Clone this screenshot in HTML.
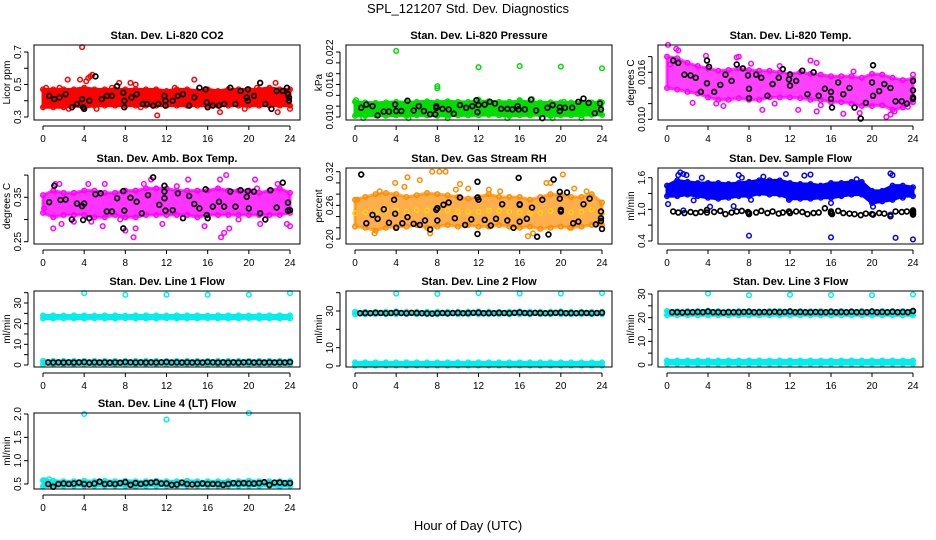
<!DOCTYPE html>
<html><head><meta charset="utf-8"><style>
html,body{margin:0;padding:0;background:#fff;}
svg{display:block;font-family:"Liberation Sans",Arial,sans-serif;}
</style></head><body>
<svg id="chart" width="936" height="540" viewBox="0 0 936 540" xmlns="http://www.w3.org/2000/svg">
<rect x="0" y="0" width="936" height="540" fill="#fff"/>
<text x="468" y="13" text-anchor="middle" font-size="13">SPL_121207  Std. Dev. Diagnostics</text>
<text x="468" y="530" text-anchor="middle" font-size="13">Hour of Day (UTC)</text>
</svg>
<script>
// ---------- data ----------
const bandHours=[0,1,2,3,4,5,6,7,8,9,10,11,12,13,14,15,16,17,18,19,20,21,22,23,24];
const lineHours=[0.5,1,1.5,2,2.5,3,3.5,4,4.5,5,5.5,6,6.5,7,7.5,8,8.5,9,9.5,10,10.5,11,11.5,12,12.5,13,13.5,14,14.5,15,15.5,16,16.5,17,17.5,18,18.5,19,19.5,20,20.5,21,21.5,22,22.5,23,23.5,24];

// Panel 1 CO2
const co2Lo=[0.36,0.36,0.36,0.37,0.36,0.37,0.37,0.37,0.37,0.37,0.37,0.37,0.37,0.37,0.37,0.37,0.37,0.37,0.37,0.37,0.37,0.37,0.37,0.37,0.37];
const co2Hi=[0.47,0.47,0.47,0.47,0.48,0.47,0.47,0.47,0.47,0.47,0.47,0.47,0.46,0.47,0.47,0.46,0.47,0.46,0.47,0.47,0.47,0.47,0.48,0.47,0.47];
const co2OutH=[3.8,4.2,4.4,4.6,4.8,2.4,3.6,7.4,8.5,9,11.1,14.7,17.2,22.6,22.8,24,2.5,5.2,9.5,19.6,0.3,1.6,6.7,12.8,20.8];
const co2OutV=[0.73,0.52,0.54,0.55,0.56,0.53,0.53,0.51,0.51,0.5,0.31,0.53,0.33,0.51,0.33,0.35,0.35,0.35,0.36,0.35,0.48,0.48,0.48,0.48,0.48];
const co2BlkH=[0.6,1.1,1.6,2.2,2.8,3.3,3.8,3.9,4,4.5,5.1,5.7,6.2,6.7,7.2,7.8,7.9,7.9,8.6,9.1,9.7,10.1,10.7,11.2,11.8,11.9,11.9,12.6,13.1,13.6,14.2,14.7,15.2,15.8,15.9,16,16.5,17.1,17.6,18.2,18.7,19.2,19.8,19.9,19.9,20.5,21.1,21.6,22.2,22.7,23.3,23.7,23.8,23.9,23.9];
const co2BlkV=[0.43,0.41,0.42,0.44,0.36,0.38,0.41,0.36,0.35,0.40,0.55,0.41,0.43,0.43,0.49,0.45,0.40,0.36,0.42,0.44,0.38,0.38,0.37,0.38,0.43,0.40,0.37,0.40,0.43,0.44,0.37,0.42,0.48,0.47,0.39,0.36,0.37,0.37,0.38,0.48,0.38,0.46,0.42,0.47,0.40,0.43,0.51,0.38,0.35,0.46,0.46,0.48,0.44,0.42,0.40];

// Panel 2 Pressure
const prLo=[0.0102,0.0102,0.0103,0.0102,0.0103,0.0102,0.0103,0.0103,0.0102,0.0102,0.0103,0.0103,0.0103,0.0104,0.0103,0.0102,0.0103,0.0103,0.0104,0.0102,0.0103,0.0103,0.0103,0.0104,0.0104];
const prHi=[0.0128,0.0127,0.0126,0.0127,0.0128,0.0127,0.0128,0.0129,0.0128,0.0129,0.0128,0.0128,0.0129,0.0129,0.0128,0.0128,0.0129,0.0128,0.0127,0.0127,0.0127,0.0127,0.0127,0.0127,0.0127];
const prOutH=[4,8,8,12,16,20,24,17.2,20.3,23.8,22,0.8,5.2,9,14.8,19.2,0.1,12,16];
const prOutV=[0.0222,0.0157,0.0153,0.0192,0.0194,0.0193,0.019,0.0133,0.0128,0.0128,0.0098,0.0098,0.0098,0.0098,0.0098,0.0098,0.0131,0.0132,0.0131];
const prBlkH=[0.6,1.1,1.7,2.2,2.8,3.3,3.9,4,4.5,5.1,5.7,6.2,6.7,7.3,7.8,7.9,7.9,8.5,9.1,9.6,10.2,10.8,11.4,11.8,11.9,12,12.6,13.1,13.6,14.2,14.8,15.3,15.8,15.9,16.5,17.1,17.6,18.2,18.7,19.2,19.9,19.9,20.4,21.1,21.7,22.2,22.7,23.3,23.8,23.9];
const prBlkV=[0.0117,0.0123,0.0120,0.0103,0.0110,0.0110,0.0123,0.0111,0.0111,0.0130,0.0112,0.0120,0.0111,0.0105,0.0105,0.0120,0.0117,0.0115,0.0114,0.0106,0.0122,0.0117,0.0120,0.0131,0.0109,0.0122,0.0123,0.0128,0.0125,0.0115,0.0115,0.0114,0.0120,0.0114,0.0114,0.0132,0.0112,0.0098,0.0117,0.0122,0.0118,0.0111,0.0117,0.0117,0.0128,0.0134,0.0126,0.0107,0.0125,0.0114];

// Panel 3 Li-820 Temp
const tpLo=[0.0140,0.0138,0.0135,0.0133,0.0128,0.0125,0.0125,0.0127,0.0125,0.0125,0.0128,0.0128,0.0128,0.0127,0.0125,0.0125,0.0122,0.0122,0.0120,0.0117,0.0117,0.0118,0.0112,0.0115,0.0122];
const tpHi=[0.0180,0.0178,0.0172,0.0168,0.0165,0.0162,0.0163,0.0165,0.0163,0.0162,0.0162,0.0160,0.0158,0.0160,0.0158,0.0157,0.0155,0.0155,0.0155,0.0153,0.0158,0.0157,0.0153,0.0150,0.0152];
const tpOutH=[0.1,0.9,1.1,3.8,7,6.8,8.2,11,14,14.6,9.3,12.8,14.6,17.2,18.8,21.4,21.8,22.2,24,5.5,15,0.3,2.5,4.8,10.5,18.2,23.5];
const tpOutV=[0.0195,0.019,0.0188,0.0181,0.018,0.0179,0.0171,0.0168,0.0175,0.0172,0.0112,0.0112,0.011,0.0107,0.0108,0.0103,0.0106,0.011,0.0157,0.0117,0.0118,0.0170,0.0121,0.0120,0.0120,0.0161,0.0116];
const tpBlkH=[0.6,1.1,1.7,2.3,2.8,3.3,3.9,3.9,4.1,4.6,5.2,5.7,6.3,6.8,7.4,7.9,8,8,8.7,9.2,9.8,10.3,10.9,11.3,11.9,12,12,12.6,13.2,13.7,14.3,14.8,15.4,16,16,16.1,16.7,17.2,17.8,18.3,18.9,19.4,20,20.1,20.1,20.7,21.2,21.8,22.3,22.9,23.4,24,24,24,24];
const tpBlkV=[0.0175,0.0172,0.0157,0.0156,0.0153,0.0135,0.0175,0.0146,0.0167,0.0135,0.0144,0.0157,0.0149,0.0170,0.0165,0.0156,0.0139,0.0127,0.0157,0.0153,0.0130,0.0145,0.0153,0.0164,0.0151,0.0157,0.0143,0.0149,0.0162,0.0132,0.0160,0.0130,0.0139,0.0135,0.0126,0.0115,0.0147,0.0132,0.0140,0.0115,0.0101,0.0121,0.0147,0.0130,0.0169,0.0136,0.0145,0.0140,0.0123,0.0123,0.0120,0.0149,0.0137,0.0128,0.0126];

// Panel 4 Amb Box Temp
const abLo=[0.315,0.305,0.31,0.31,0.31,0.305,0.305,0.31,0.305,0.305,0.31,0.31,0.31,0.31,0.31,0.305,0.31,0.31,0.31,0.31,0.31,0.31,0.31,0.31,0.315];
const abHi=[0.355,0.365,0.36,0.36,0.365,0.365,0.36,0.36,0.365,0.365,0.37,0.37,0.37,0.365,0.365,0.365,0.365,0.37,0.365,0.365,0.365,0.36,0.365,0.37,0.36];
const abOutH=[1.2,1.6,4.4,6,8.8,10.5,14.1,17.8,17.2,17.3,17.6,18.1,20.6,20.8,1,1.8,5.8,8,9,11.6,15.7,21.1,23.7,24,0.1,9.8,22.8,7.5,4.7,3,13,19];
const abOutV=[0.38,0.38,0.38,0.38,0.26,0.39,0.39,0.40,0.39,0.26,0.27,0.28,0.39,0.37,0.28,0.29,0.285,0.275,0.28,0.29,0.285,0.29,0.29,0.285,0.325,0.38,0.38,0.30,0.295,0.295,0.375,0.30];
const abBlkH=[0.6,1.1,1.7,2.2,2.8,3.3,3.8,3.9,4,4.5,5.1,5.6,6.2,6.7,7.2,7.8,7.8,7.9,8.5,9.1,9.6,10.2,10.7,11.3,11.8,11.8,11.9,11.8,12.6,13.1,13.6,14.2,14.7,15.2,15.8,15.9,16,16.5,17.1,17.6,18.2,18.7,19.2,19.8,19.9,20,20.5,21.1,21.6,22.1,22.7,23.3,23.8,23.8,24];
const abBlkV=[0.339,0.376,0.344,0.345,0.30,0.336,0.33,0.299,0.336,0.303,0.357,0.359,0.318,0.318,0.348,0.364,0.28,0.32,0.349,0.34,0.314,0.355,0.395,0.333,0.376,0.363,0.32,0.348,0.321,0.359,0.303,0.353,0.335,0.325,0.368,0.31,0.303,0.329,0.34,0.329,0.363,0.329,0.366,0.351,0.364,0.325,0.363,0.314,0.30,0.366,0.327,0.383,0.338,0.32,0.321];

// Panel 5 Gas Stream RH
const rhLo=[0.222,0.22,0.215,0.22,0.222,0.222,0.225,0.22,0.222,0.225,0.222,0.225,0.222,0.222,0.225,0.222,0.22,0.222,0.218,0.22,0.222,0.22,0.222,0.225,0.225];
const rhHi=[0.27,0.275,0.28,0.282,0.28,0.275,0.278,0.282,0.28,0.278,0.275,0.272,0.275,0.28,0.275,0.275,0.275,0.27,0.275,0.28,0.278,0.275,0.275,0.28,0.265];
const rhOutH=[5.1,6.3,7.5,8.2,8.8,3.9,2.4,10.2,14.1,18.6,20.2,19,7.3,16.8,17.3,20.9,1.9,4.8,11,13,21.3,22.5,0.2,9.8];
const rhOutV=[0.31,0.305,0.32,0.32,0.32,0.30,0.285,0.298,0.285,0.30,0.315,0.30,0.21,0.205,0.21,0.22,0.21,0.293,0.29,0.288,0.29,0.285,0.27,0.288];
const rhBlkH=[0.6,1.1,1.7,2.2,2.8,3.3,3.8,3.9,4,4.6,5.1,5.7,6.3,6.8,7.3,7.9,8,8,8.6,9.1,9.7,10.2,10.7,11.3,11.9,11.9,12,11.9,12.6,13.2,13.7,14.3,14.8,15.4,15.9,16,16,16,16.7,17.2,17.7,18.2,18.8,19.3,19.9,19.9,20,20,20.6,21.2,21.7,22.2,22.8,23.4,23.9,23.9,23.9,24];
const rhBlkV=[0.315,0.228,0.243,0.236,0.253,0.229,0.27,0.245,0.22,0.228,0.239,0.227,0.225,0.233,0.217,0.252,0.255,0.233,0.261,0.265,0.237,0.274,0.225,0.235,0.302,0.274,0.27,0.209,0.234,0.224,0.236,0.262,0.233,0.22,0.309,0.231,0.262,0.261,0.236,0.256,0.204,0.27,0.208,0.306,0.284,0.272,0.252,0.249,0.283,0.228,0.231,0.262,0.272,0.226,0.249,0.237,0.232,0.218];

// Panel 6 Sample Flow
const sfLo=[1.25,1.25,1.28,1.25,1.22,1.2,1.22,1.25,1.25,1.3,1.28,1.28,1.2,1.2,1.2,1.22,1.22,1.25,1.28,1.28,1.12,1.15,1.18,1.25,1.25];
const sfHi=[1.45,1.55,1.52,1.5,1.5,1.5,1.48,1.5,1.52,1.55,1.55,1.55,1.5,1.48,1.48,1.45,1.5,1.5,1.52,1.52,1.35,1.35,1.45,1.45,1.42];
const sfOutH=[0.1,1.3,1.6,1.9,1.1,7,7.3,9.4,11.6,13.4,14,22,21.8,1.6,4.2,6.5,8,16,22.3,24,21.8,8.2,2.6,16,20.1,3.4,11.9,18.5,23];
const sfOutV=[1.1,1.7,1.67,1.65,1.65,1.65,1.6,1.62,1.67,1.64,1.66,1.65,1.68,0.98,1.05,1.06,0.5,0.47,0.46,0.43,0.9,1.18,1.17,1.12,1.05,1.6,1.18,1.57,1.22];
const sfBlkH=[0.6,1.1,1.7,2.3,2.8,3.3,3.9,3.9,4.6,5.2,5.7,6.3,6.8,7.3,7.9,8,8,8.7,9.2,9.8,10.3,10.9,11.3,11.9,12,12.6,13.2,13.7,14.3,14.8,15.4,16,16,16.1,16.7,17.2,17.8,18.3,18.9,19.4,20,20.1,20.7,21.2,21.8,22.3,22.9,23.4,24,24,24,24];
const sfBlkV=[0.96,0.94,0.93,0.95,0.93,0.95,0.99,0.94,0.95,0.97,0.91,0.94,0.96,0.97,0.95,0.91,0.93,0.94,0.97,0.93,0.96,0.92,0.94,0.96,0.93,0.96,0.95,0.91,0.93,0.94,1.02,0.96,0.93,0.91,0.97,0.93,0.92,0.91,0.89,0.92,0.91,0.9,0.93,0.92,0.87,0.96,0.95,0.96,0.98,0.95,0.92,0.9];

// Panel 7 Line 1 Flow
const l1UpLo=[22.5,22.5,22.6,22.5,22.5,22.6,22.5,22.5,22.6,22.5,22.5,22.5,22.6,22.5,22.5,22.5,22.6,22.5,22.5,22.5,22.6,22.5,22.5,22.5,22.5];
const l1UpHi=[24,24,23.9,24,24,23.9,24,24,23.9,24,24,24,23.9,24,24,24,23.9,24,24,24,23.9,24,24,24,24];
const l1LowLo=[0.3,0.3,0.3,0.3,0.3,0.3,0.3,0.3,0.3,0.3,0.3,0.3,0.3,0.3,0.3,0.3,0.3,0.3,0.3,0.3,0.3,0.3,0.3,0.3,0.3];
const l1LowHi=[2,2,2,2,2,2,2,2,2,2,2,2,2,2,2,2,2,2,2,2,2,2,2,2,2];
const l1OutH=[4,8,12,16,20,24];
const l1OutV=[34.8,34,34,34,34,34.8];
const l1Blk=[1.3,1.2,1.3,1.2,1.3,1.2,1.3,1.4,1.2,1.3,1.2,1.3,1.2,1.3,1.2,1.4,1.3,1.2,1.3,1.2,1.3,1.2,1.3,1.4,1.2,1.3,1.2,1.3,1.2,1.3,1.2,1.4,1.3,1.2,1.3,1.2,1.3,1.2,1.3,1.4,1.2,1.3,1.2,1.3,1.2,1.3,1.2,1.4];

// Panel 8 Line 2 Flow
const l2UpLo=[28.2,28.2,28.3,28.2,28.2,28.3,28.2,28.2,28.2,28.3,28.2,28.2,28.2,28.3,28.2,28.2,28.2,28.2,28.3,28.2,28.2,28.2,28.2,28.2,28.2];
const l2UpHi=[29.6,29.5,29.6,29.6,29.8,29.6,29.5,29.6,29.6,29.5,29.6,29.6,29.8,29.6,29.5,29.6,29.8,29.6,29.5,29.6,29.8,29.6,29.6,29.5,29.6];
const l2LowLo=[0.2,0.2,0.2,0.2,0.2,0.2,0.2,0.2,0.2,0.2,0.2,0.2,0.2,0.2,0.2,0.2,0.2,0.2,0.2,0.2,0.2,0.2,0.2,0.2,0.2];
const l2LowHi=[2,2,2,2,2,2,2,2,2,2,2,2,2,2,2,2,2,2,2,2,2,2,2,2,2];
const l2OutH=[4,8,12,16,20,24];
const l2OutV=[39.5,39.3,39.8,39.5,39.5,39.8];
const l2Blk=[28.8,28.9,28.8,29,28.9,28.8,28.9,29.2,28.9,28.8,29,28.9,28.8,28.7,28.6,28.8,28.9,28.8,28.9,29,28.8,28.9,29,29.1,28.8,28.9,28.8,29,28.9,28.8,29,29.2,28.9,28.8,29,28.9,28.8,28.9,29,29.1,28.8,28.9,28.8,29,28.9,28.8,28.9,29.1];

// Panel 9 Line 3 Flow
const l3UpLo=[21,21,21,21,21,21,21,21,21,21,21,21,21,21,21,21,21,21,21,21,21,21,21,21,21];
const l3UpHi=[22.8,22.7,22.8,22.8,23,22.8,22.7,22.8,22.8,22.7,22.8,22.8,22.8,22.8,22.7,22.8,22.8,22.8,22.7,22.8,22.8,22.8,22.8,22.8,23];
const l3LowLo=[0.4,0.4,0.4,0.4,0.4,0.4,0.4,0.4,0.4,0.4,0.4,0.4,0.4,0.4,0.4,0.4,0.4,0.4,0.4,0.4,0.4,0.4,0.4,0.4,0.4];
const l3LowHi=[1.9,1.9,1.9,1.9,1.9,1.9,1.9,1.9,1.9,1.9,1.9,1.9,1.9,1.9,1.9,1.9,1.9,1.9,1.9,1.9,1.9,1.9,1.9,1.9,1.9];
const l3OutH=[4,8,12,16,20,24];
const l3OutV=[30.2,29.5,29.7,29.6,29.5,29.8];
const l3Blk=[22.3,22.3,22.2,22.3,22.3,22.4,22.3,22.6,22.3,22.3,22.2,22.3,22.3,22.3,22.4,22.5,22.3,22.3,22.4,22.3,22.5,22.3,22.4,22.6,22.3,22.4,22.3,22.3,22.4,22.3,22.3,22.5,22.3,22.4,22.3,22.5,22.3,22.4,22.3,22.6,22.3,22.4,22.3,22.5,22.3,22.4,22.3,22.8];

// Panel 10 Line 4 Flow
const l4Lo=[0.45,0.45,0.46,0.46,0.46,0.46,0.46,0.46,0.46,0.45,0.46,0.46,0.46,0.46,0.46,0.46,0.46,0.46,0.46,0.46,0.46,0.46,0.46,0.45,0.46];
const l4Hi=[0.58,0.57,0.56,0.56,0.57,0.56,0.57,0.56,0.57,0.56,0.56,0.57,0.56,0.56,0.57,0.56,0.56,0.56,0.56,0.56,0.57,0.56,0.56,0.56,0.56];
const l4OutH=[4,12,20,0.2,0.6];
const l4OutV=[2.0,1.88,2.02,0.58,0.6];
const l4Blk=[0.5,0.44,0.5,0.51,0.5,0.51,0.53,0.5,0.49,0.51,0.55,0.5,0.51,0.5,0.52,0.54,0.48,0.52,0.5,0.52,0.53,0.54,0.51,0.51,0.48,0.49,0.53,0.5,0.49,0.5,0.51,0.5,0.5,0.5,0.48,0.5,0.52,0.51,0.52,0.51,0.51,0.52,0.54,0.48,0.53,0.53,0.52,0.52];

// ---------- rendering ----------
const NS="http://www.w3.org/2000/svg";
const svg=document.getElementById('chart');
function el(tag,attrs,parent){const e=document.createElementNS(NS,tag);for(const k in attrs)e.setAttribute(k,attrs[k]);(parent||svg).appendChild(e);return e;}

function panel(p){
  const g=el('g',{});
  
  
  const sx=h=>p.xa+h*(p.xb-p.xa)/24;
  const sy=v=>p.pa+(v-p.va)*(p.pb-p.pa)/(p.vb-p.va);
  const op=p.op||1;
  (p.bands||[]).forEach((b,bi)=>{
    let pts=bandHours.map((h,i)=>sx(h)+','+sy(b.lo[i]));
    pts=pts.concat(bandHours.map((h,i)=>sx(h)+','+sy(b.hi[i])).reverse());
    const poly=el('polygon',{points:pts.join(' '),fill:p.color,'fill-opacity':op,stroke:p.color,'stroke-opacity':op,'stroke-width':3,'stroke-linejoin':'round'},g);
    
    
    bandHours.forEach((h,i)=>{
      [b.lo[i],b.hi[i]].forEach(v=>{
        const c=el('circle',{cx:sx(h),cy:sy(v),r:2.3,fill:'none',stroke:p.color,'stroke-width':1.4},g);
        
        
      });
    });
  });
  if(p.dot){
    (p.bands||[]).forEach(b=>{
      bandHours.forEach((h,i)=>{
        const c=el('circle',{cx:sx(h),cy:sy((b.lo[i]+b.hi[i])/2),r:2.3,fill:'none',stroke:p.dot,'stroke-width':1.2},g);
        
        
      });
    });
  }
  (p.outH||[]).forEach((h,i)=>{
    const c=el('circle',{cx:sx(h),cy:sy(p.outV[i]),r:2.3,fill:'none',stroke:p.color,'stroke-width':1.5},g);
    
    
  });
  (p.blkH||[]).forEach((h,i)=>{
    const c=el('circle',{cx:sx(h),cy:sy(p.blkV[i]),r:2.4,fill:'none',stroke:'#000','stroke-width':1.7},g);
    
    
  });
  const box=el('rect',{x:p.bx0,y:p.by0,width:p.bx1-p.bx0,height:p.by1-p.by0,fill:'none',stroke:'#000','stroke-width':1},g);
  
  
  const t=el('text',{x:(p.bx0+p.bx1)/2,y:p.by0-6,'text-anchor':'middle','font-size':11,'font-weight':'bold'},g);
  t.textContent=p.title;
  
  
  const ay=p.by1+6;
  el('line',{x1:sx(0),x2:sx(24),y1:ay,y2:ay,stroke:'#000','stroke-width':1},g);
  [0,4,8,12,16,20,24].forEach(h=>{
    el('line',{x1:sx(h),x2:sx(h),y1:ay,y2:ay+4,stroke:'#000','stroke-width':1},g);
    const lt=el('text',{x:sx(h),y:ay+16,'text-anchor':'middle','font-size':10},g);
    lt.textContent=h;
    
    
  });
  const ax=p.bx0-6;
  el('line',{x1:ax,x2:ax,y1:sy(p.ticks[0]),y2:sy(p.ticks[p.ticks.length-1]),stroke:'#000','stroke-width':1},g);
  p.ticks.forEach(v=>el('line',{x1:ax-4,x2:ax,y1:sy(v),y2:sy(v),stroke:'#000','stroke-width':1},g));
  p.labels.forEach(s=>{
    const y=sy(parseFloat(s));
    const lt=el('text',{x:0,y:0,'text-anchor':'middle','font-size':10,transform:`translate(${ax-7},${y}) rotate(-90)`},g);
    lt.textContent=s;
    
    
  });
  const yl=el('text',{x:0,y:0,'text-anchor':'middle','font-size':10,transform:`translate(${p.bx0-24},${(p.by0+p.by1)/2}) rotate(-90)`},g);
  yl.textContent=p.ylab;
  
  
}
const C1={bx0:34,bx1:300,xa:43,xb:290}, C2={bx0:346,bx1:612,xa:355,xb:602}, C3={bx0:658,bx1:923,xa:667,xb:913};
const R=[[45,120],[168,244],[291,367],[413,489]];
function cfg(c,r,o){return Object.assign({},c,{by0:R[r][0],by1:R[r][1]},o);}

panel(cfg(C1,0,{name:'panel-co2',title:'Stan. Dev. Li-820 CO2',ylab:'Licor ppm',color:'#ff0000',va:0.3,pa:117,vb:0.7,pb:52,ticks:[0.3,0.4,0.5,0.6,0.7],labels:['0.3','0.5','0.7'],bands:[{lo:co2Lo,hi:co2Hi}],outH:co2OutH,outV:co2OutV,blkH:co2BlkH,blkV:co2BlkV}));
panel(cfg(C2,0,{name:'panel-pressure',title:'Stan. Dev. Li-820 Pressure',ylab:'kPa',color:'#00dd00',va:0.010,pa:117,vb:0.022,pb:52,ticks:[0.010,0.012,0.014,0.016,0.018,0.020,0.022],labels:['0.010','0.016','0.022'],bands:[{lo:prLo,hi:prHi}],outH:prOutH,outV:prOutV,blkH:prBlkH,blkV:prBlkV}));
panel(cfg(C3,0,{name:'panel-li820-temp',title:'Stan. Dev. Li-820 Temp.',ylab:'degrees C',color:'#ff00ff',op:0.75,va:0.010,pa:119.3,vb:0.016,pb:72.3,ticks:[0.010,0.012,0.014,0.016,0.018],labels:['0.010','0.016'],bands:[{lo:tpLo,hi:tpHi}],outH:tpOutH,outV:tpOutV,blkH:tpBlkH,blkV:tpBlkV}));
panel(cfg(C1,1,{name:'panel-amb-box-temp',title:'Stan. Dev. Amb. Box Temp.',ylab:'degrees C',color:'#ff00ff',op:0.8,va:0.25,pa:241.7,vb:0.35,pb:197.3,ticks:[0.25,0.30,0.35,0.40],labels:['0.25','0.35'],bands:[{lo:abLo,hi:abHi}],outH:abOutH,outV:abOutV,blkH:abBlkH,blkV:abBlkV}));
panel(cfg(C2,1,{name:'panel-gas-rh',title:'Stan. Dev. Gas Stream RH',ylab:'percent',color:'#ff8c00',op:0.7,dot:'#ffdd00',va:0.20,pa:239,vb:0.32,pb:171.7,ticks:[0.20,0.22,0.24,0.26,0.28,0.30,0.32],labels:['0.20','0.26','0.32'],bands:[{lo:rhLo,hi:rhHi}],outH:rhOutH,outV:rhOutV,blkH:rhBlkH,blkV:rhBlkV}));
panel(cfg(C3,1,{name:'panel-sample-flow',title:'Stan. Dev. Sample Flow',ylab:'ml/min',color:'#0000ff',va:0.4,pa:241,vb:1.6,pb:177.7,ticks:[0.4,0.7,1.0,1.3,1.6],labels:['0.4','1.0','1.6'],bands:[{lo:sfLo,hi:sfHi}],outH:sfOutH,outV:sfOutV,blkH:sfBlkH,blkV:sfBlkV}));
panel(cfg(C1,2,{name:'panel-line1-flow',title:'Stan. Dev. Line 1 Flow',ylab:'ml/min',color:'#00eeee',va:0,pa:365,vb:30,pb:303,ticks:[0,5,10,15,20,25,30,35],labels:['0','10','20','30'],bands:[{lo:l1UpLo,hi:l1UpHi},{lo:l1LowLo,hi:l1LowHi}],outH:l1OutH,outV:l1OutV,blkH:lineHours,blkV:l1Blk}));
panel(cfg(C2,2,{name:'panel-line2-flow',title:'Stan. Dev. Line 2 Flow',ylab:'ml/min',color:'#00eeee',va:0,pa:366,vb:30,pb:311,ticks:[0,10,20,30,40],labels:['0','10','30'],bands:[{lo:l2UpLo,hi:l2UpHi},{lo:l2LowLo,hi:l2LowHi}],outH:l2OutH,outV:l2OutV,blkH:lineHours,blkV:l2Blk}));
panel(cfg(C3,2,{name:'panel-line3-flow',title:'Stan. Dev. Line 3 Flow',ylab:'ml/min',color:'#00eeee',va:0,pa:365,vb:30,pb:294,ticks:[0,5,10,15,20,25,30],labels:['0','10','20','30'],bands:[{lo:l3UpLo,hi:l3UpHi},{lo:l3LowLo,hi:l3LowHi}],outH:l3OutH,outV:l3OutV,blkH:lineHours,blkV:l3Blk}));
panel(cfg(C1,3,{name:'panel-line4-flow',title:'Stan. Dev. Line 4 (LT) Flow',ylab:'ml/min',color:'#00eeee',va:0.5,pa:484,vb:2.0,pb:414,ticks:[0.5,1.0,1.5,2.0],labels:['0.5','1.0','1.5','2.0'],bands:[{lo:l4Lo,hi:l4Hi}],outH:l4OutH,outV:l4OutV,blkH:lineHours,blkV:l4Blk}));
</script>
</body></html>
